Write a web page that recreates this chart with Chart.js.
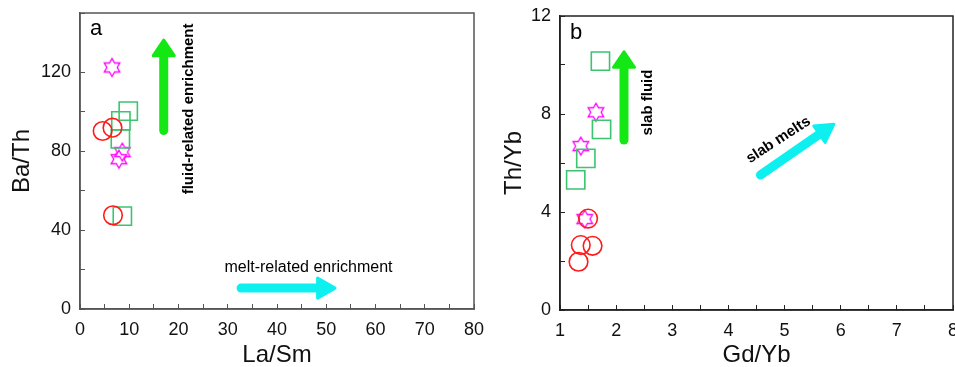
<!DOCTYPE html>
<html><head><meta charset="utf-8">
<script src="https://cdn.jsdelivr.net/npm/chart.js@4.4.1/dist/chart.umd.min.js"></script>
<style>
html,body{margin:0;padding:0;background:#fff;overflow:hidden;}
#wrap{position:relative;width:955px;height:367px;}
canvas{position:absolute;left:0;top:0;}
</style></head><body>
<div id="wrap"><canvas id="ca" width="955" height="367"></canvas><canvas id="cb" width="955" height="367"></canvas></div>
<script>
// ---- Panel a: La/Sm vs Ba/Th ----
const aCircleLaSm = [4.6, 6.6, 6.7];
const aCircleBaTh = [90.2, 91.9, 47.5];
const aSquareLaSm = [9.8, 8.3, 8.2, 8.6];
const aSquareBaTh = [100.3, 95.3, 86.2, 47.1];
const aStarLaSm = [6.5, 8.6, 7.9];
const aStarBaTh = [122.4, 79.5, 75.9];
const aXLabels = [0, 10, 20, 30, 40, 50, 60, 70, 80];
const aYLabels = [0, 40, 80, 120];
// annotation arrows / texts (data coordinates)
const aFluidArrow = [[17, 90.4], [17, 137]];
const aMeltArrow = [[32.7, 10.6], [52.1, 10.6]];
const aFluidText = [22.1, 101.4];
const aMeltText = [46.4, 20.8];

// ---- Panel b: Gd/Yb vs Th/Yb ----
const bCircleGdYb = [1.50, 1.37, 1.58, 1.33];
const bCircleThYb = [3.73, 2.65, 2.62, 1.97];
const bSquareGdYb = [1.72, 1.74, 1.46, 1.28];
const bSquareThYb = [10.16, 7.37, 6.19, 5.31];
const bStarGdYb = [1.64, 1.37, 1.44];
const bStarThYb = [8.07, 6.69, 3.71];
const bXLabels = [1, 2, 3, 4, 5, 6, 7, 8];
const bYLabels = [0, 4, 8, 12];
const bFluidArrow = [[2.14, 6.94], [2.14, 10.6]];
const bMeltArrow = [[4.57, 5.51], [5.9, 7.62]];
const bFluidText = [2.56, 8.47];
const bMeltText = [4.89, 6.94];

const FONT = "'Liberation Sans', Arial, sans-serif";
Chart.defaults.font.family = FONT;
const RED = '#ff1a1a', GREEN_SQ = '#3cc46e', MAGENTA = '#ff00ff', GREEN_AR = '#14e814', CYAN = '#0ef0f0';

function hexagram(color, r, lw) {
  const s = Math.ceil(2 * r + 4);
  const c = document.createElement('canvas');
  c.width = s; c.height = s;
  const g = c.getContext('2d');
  const cx = s / 2, cy = s / 2, ri = r / Math.sqrt(3);
  g.beginPath();
  for (let i = 0; i < 12; i++) {
    const ang = -Math.PI / 2 + i * Math.PI / 6;
    const rr = i % 2 === 0 ? r : ri;
    const px = cx + rr * Math.cos(ang), py = cy + rr * Math.sin(ang);
    if (i) g.lineTo(px, py); else g.moveTo(px, py);
  }
  g.closePath();
  g.strokeStyle = color; g.lineWidth = lw; g.stroke();
  return c;
}
const starImg = hexagram(MAGENTA, 9, 1.3);

function pts(xs, ys) { return xs.map((x, i) => ({x: x, y: ys[i]})); }

function drawArrow(ctx, x1, y1, x2, y2, color, w, hl, hw) {
  const ang = Math.atan2(y2 - y1, x2 - x1);
  const c = Math.cos(ang), s = Math.sin(ang);
  const bx = x2 - hl * c, by = y2 - hl * s;
  ctx.save();
  ctx.strokeStyle = color; ctx.fillStyle = color;
  ctx.lineWidth = w; ctx.lineCap = 'round';
  ctx.beginPath(); ctx.moveTo(x1, y1); ctx.lineTo(bx + 2 * c, by + 2 * s); ctx.stroke();
  const tx = x2 - 1.5 * c, ty = y2 - 1.5 * s;
  ctx.beginPath();
  ctx.moveTo(tx, ty);
  ctx.lineTo(bx - s * hw / 2, by + c * hw / 2);
  ctx.lineTo(bx + s * hw / 2, by - c * hw / 2);
  ctx.closePath();
  ctx.lineJoin = 'round'; ctx.lineWidth = 3;
  ctx.fill(); ctx.stroke();
  ctx.restore();
}
function drawText(ctx, txt, x, y, rot, font) {
  ctx.save();
  ctx.translate(x, y); ctx.rotate(rot);
  ctx.font = font; ctx.fillStyle = '#000';
  ctx.textAlign = 'center'; ctx.textBaseline = 'middle';
  ctx.fillText(txt, 0, 0);
  ctx.restore();
}

function makePlugin(cfg) {
  return {
    id: 'deco',
    afterDatasetsDraw(chart) {
      const ctx = chart.ctx, ca = chart.chartArea, xs = chart.scales.x, ys = chart.scales.y;
      const px = p => [xs.getPixelForValue(p[0]), ys.getPixelForValue(p[1])];
      ctx.save();
      ctx.strokeStyle = cfg.frame; ctx.lineWidth = 1.5;
      ctx.strokeRect(ca.left, ca.top, ca.right - ca.left, ca.bottom - ca.top);
      ctx.restore();
      const f0 = px(cfg.fluidArrow[0]), f1 = px(cfg.fluidArrow[1]);
      drawArrow(ctx, f0[0], f0[1], f1[0], f1[1], GREEN_AR, 9, 17, 21);
      const m0 = px(cfg.meltArrow[0]), m1 = px(cfg.meltArrow[1]);
      drawArrow(ctx, m0[0], m0[1], m1[0], m1[1], CYAN, 9, 19, 20);
      const ft = px(cfg.fluidText);
      drawText(ctx, cfg.fluidLabel, ft[0], ft[1], -Math.PI / 2, 'bold 15px ' + FONT);
      const mt = px(cfg.meltText);
      drawText(ctx, cfg.meltLabel, mt[0], mt[1], cfg.meltRot, cfg.meltFont);
      ctx.save();
      ctx.font = '22px ' + FONT; ctx.fillStyle = '#000';
      ctx.textAlign = 'left'; ctx.textBaseline = 'alphabetic';
      ctx.fillText(cfg.letter, ca.left + cfg.letterDx, ca.top + cfg.letterDy);
      ctx.restore();
    }
  };
}

function axis(opts) {
  return {
    type: 'linear', min: opts.min, max: opts.max, position: opts.position,
    ticks: {
      stepSize: opts.step, autoSkip: false, maxRotation: 0, color: '#111',
      font: {size: 18, family: FONT}, padding: opts.pad,
      callback: v => opts.labels.includes(v) ? String(v) : ''
    },
    grid: {drawOnChartArea: false, drawTicks: true, tickLength: -5, color: opts.color, tickWidth: 1},
    border: {display: true, color: opts.color, width: 1.5},
    title: {display: true, text: opts.title, color: '#111', font: {size: 24, family: FONT, lineHeight: 1}, padding: {top: 0, bottom: 0}},
    afterFit(s) {
      if (opts.position === 'bottom') s.height = opts.size; else s.width = opts.size;
      s.paddingLeft = 0; s.paddingRight = 0; s.paddingTop = 0; s.paddingBottom = 0;
    }
  };
}

function makeChart(id, d, pad, xo, yo, deco) {
  return new Chart(document.getElementById(id), {
    type: 'scatter',
    data: {
      datasets: [
        {data: pts(d.cx, d.cy), pointStyle: 'circle', pointRadius: 9.3, pointBorderWidth: 1.6, pointBorderColor: RED, pointBackgroundColor: 'rgba(0,0,0,0)'},
        {data: pts(d.sx, d.sy), pointStyle: 'rect', pointRadius: 12.9, pointBorderWidth: 1.6, pointBorderColor: GREEN_SQ, pointBackgroundColor: 'rgba(0,0,0,0)'},
        {data: pts(d.tx, d.ty), pointStyle: starImg, pointRadius: 9, pointBorderColor: MAGENTA, pointBackgroundColor: 'rgba(0,0,0,0)'}
      ]
    },
    options: {
      responsive: false, animation: false, events: [],
      layout: {padding: pad, autoPadding: false},
      plugins: {legend: {display: false}, tooltip: {enabled: false}},
      scales: {x: axis(xo), y: axis(yo)}
    },
    plugins: [makePlugin(deco)]
  });
}

makeChart('ca',
  {cx: aCircleLaSm, cy: aCircleBaTh, sx: aSquareLaSm, sy: aSquareBaTh, tx: aStarLaSm, ty: aStarBaTh},
  {left: 10, right: 481, top: 13, bottom: 0},
  {min: 0, max: 80, step: 5, labels: aXLabels, position: 'bottom', pad: 15, size: 58, color: '#555', title: 'La/Sm'},
  {min: 0, max: 150, step: 20, labels: aYLabels, position: 'left', pad: 14, size: 70, color: '#555', title: 'Ba/Th'},
  {frame: '#555', fluidArrow: aFluidArrow, meltArrow: aMeltArrow, fluidText: aFluidText, meltText: aMeltText,
   fluidLabel: 'fluid-related enrichment', meltLabel: 'melt-related enrichment', meltRot: 0, meltFont: '16px ' + FONT,
   letter: 'a', letterDx: 10, letterDy: 22});

makeChart('cb',
  {cx: bCircleGdYb, cy: bCircleThYb, sx: bSquareGdYb, sy: bSquareThYb, tx: bStarGdYb, ty: bStarThYb},
  {left: 502, right: 2, top: 16, bottom: 0},
  {min: 1, max: 8, step: 0.5, labels: bXLabels, position: 'bottom', pad: 15, size: 57, color: '#222', title: 'Gd/Yb'},
  {min: 0, max: 12, step: 2, labels: bYLabels, position: 'left', pad: 14, size: 58, color: '#222', title: 'Th/Yb'},
  {frame: '#222', fluidArrow: bFluidArrow, meltArrow: bMeltArrow, fluidText: bFluidText, meltText: bMeltText,
   fluidLabel: 'slab fluid', meltLabel: 'slab melts', meltRot: -33 * Math.PI / 180, meltFont: 'bold 15px ' + FONT,
   letter: 'b', letterDx: 10, letterDy: 23});
</script>
</body></html>
